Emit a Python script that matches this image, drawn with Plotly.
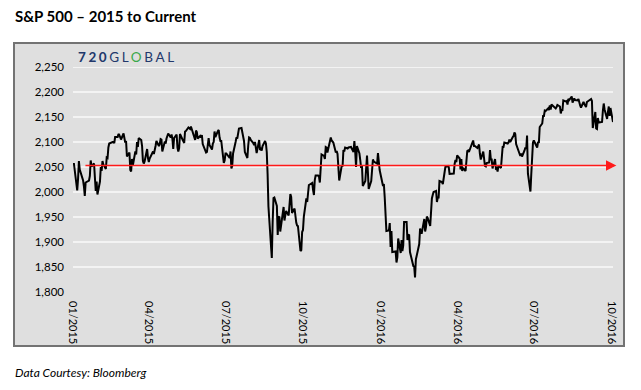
import plotly.graph_objects as go

# S&P 500 daily closes (day of month, close)
sp_2015_01 = [(2,2058),(5,2021),(6,2003),(7,2026),(8,2062),(9,2045),(12,2028),(13,2023),(14,2011),(15,1992),(16,2019),(20,2023),(21,2032),(22,2063),(23,2051),(26,2057),(27,2029),(28,2002),(29,2021),(30,1995)]
sp_2015_02 = [(2,2021),(3,2050),(4,2042),(5,2062),(6,2055),(9,2046),(10,2069),(11,2068),(12,2089),(13,2097),(17,2100),(18,2100),(19,2098),(20,2110),(23,2110),(24,2116),(25,2114),(26,2111),(27,2105)]
sp_2015_03 = [(2,2117),(3,2108),(4,2099),(5,2102),(6,2071),(9,2079),(10,2044),(11,2041),(12,2066),(13,2053),(16,2081),(17,2075),(18,2100),(19,2090),(20,2108),(23,2104),(24,2092),(25,2062),(26,2057),(27,2061),(30,2086),(31,2068)]
sp_2015_04 = [(1,2060),(2,2067),(6,2081),(7,2076),(8,2082),(9,2092),(10,2102),(13,2092),(14,2096),(15,2106),(16,2105),(17,2081),(20,2101),(21,2097),(22,2107),(23,2113),(24,2117),(27,2109),(28,2115),(29,2106),(30,2086)]
sp_2015_05 = [(1,2108),(4,2115),(5,2089),(6,2081),(7,2088),(8,2116),(11,2105),(12,2099),(13,2098),(14,2121),(15,2122),(18,2129),(19,2128),(20,2126),(21,2131),(22,2126),(26,2104),(27,2123),(28,2120),(29,2107)]
sp_2015_06 = [(1,2112),(2,2109),(3,2114),(4,2096),(5,2092),(8,2079),(9,2080),(10,2105),(11,2108),(12,2094),(15,2085),(16,2097),(17,2100),(18,2121),(19,2110),(22,2122),(23,2124),(24,2109),(25,2102),(26,2102),(29,2058),(30,2063)]
sp_2015_07 = [(1,2077),(2,2077),(6,2068),(7,2081),(8,2047),(9,2052),(10,2077),(13,2100),(14,2109),(15,2107),(16,2125),(17,2127),(20,2128),(21,2120),(22,2115),(23,2102),(24,2080),(27,2068),(28,2093),(29,2109),(30,2108),(31,2104)]
sp_2015_08 = [(3,2098),(4,2094),(5,2100),(6,2084),(7,2078),(10,2104),(11,2084),(12,2086),(13,2083),(14,2092),(17,2102),(18,2097),(19,2080),(20,2036),(21,1971),(24,1893),(25,1868),(26,1940),(27,1988),(28,1989),(31,1972)]
sp_2015_09 = [(1,1914),(2,1949),(3,1951),(4,1921),(8,1970),(9,1943),(10,1953),(11,1962),(14,1953),(15,1979),(16,1996),(17,1990),(18,1958),(21,1967),(22,1943),(23,1939),(24,1933),(25,1932),(28,1882),(29,1884),(30,1920)]
sp_2015_10 = [(1,1924),(2,1951),(5,1987),(6,1980),(7,1996),(8,2014),(9,2015),(12,2018),(13,2004),(14,1994),(15,2024),(16,2033),(19,2033),(20,2031),(21,2019),(22,2053),(23,2075),(26,2072),(27,2066),(28,2090),(29,2089),(30,2079)]
sp_2015_11 = [(2,2104),(3,2109),(4,2103),(5,2100),(6,2099),(9,2079),(10,2082),(11,2076),(12,2045),(13,2023),(16,2053),(17,2051),(18,2084),(19,2081),(20,2089),(23,2087),(24,2089),(25,2089),(27,2090),(30,2080)]
sp_2015_12 = [(1,2102),(2,2080),(3,2050),(4,2092),(7,2077),(8,2064),(9,2048),(10,2053),(11,2012),(14,2022),(15,2044),(16,2073),(17,2041),(18,2006),(21,2022),(22,2039),(23,2065),(24,2061),(28,2057),(29,2078),(30,2063),(31,2044)]
sp_2016_01 = [(4,2012),(5,2016),(6,1990),(7,1943),(8,1922),(11,1923),(12,1938),(13,1890),(14,1922),(15,1880),(19,1881),(20,1859),(21,1869),(22,1907),(25,1878),(26,1904),(27,1882),(28,1893),(29,1940)]
sp_2016_02 = [(1,1940),(2,1904),(3,1913),(4,1915),(5,1880),(8,1853),(9,1852),(10,1851),(11,1829),(12,1865),(16,1896),(17,1927),(18,1918),(19,1918),(22,1946),(23,1921),(24,1930),(25,1951),(26,1948),(29,1932)]
sp_2016_03 = [(1,1979),(2,1987),(3,1994),(4,2000),(7,2002),(8,1980),(9,1989),(10,1989),(11,2022),(14,2020),(15,2016),(16,2028),(17,2041),(18,2050),(21,2052),(22,2050),(23,2036),(24,2036),(28,2037),(29,2056),(30,2064),(31,2060)]
sp_2016_04 = [(1,2073),(4,2067),(5,2045),(6,2066),(7,2042),(8,2048),(11,2042),(12,2062),(13,2082),(14,2083),(15,2080),(18,2094),(19,2101),(20,2103),(21,2092),(22,2092),(25,2088),(26,2092),(27,2095),(28,2076),(29,2065)]
sp_2016_05 = [(2,2081),(3,2063),(4,2052),(5,2051),(6,2058),(9,2059),(10,2084),(11,2065),(12,2065),(13,2047),(16,2066),(17,2047),(18,2048),(19,2041),(20,2053),(23,2048),(24,2076),(25,2090),(26,2090),(27,2099),(31,2097)]
sp_2016_06 = [(1,2099),(2,2105),(3,2100),(6,2110),(7,2112),(8,2119),(9,2116),(10,2096),(13,2080),(14,2075),(15,2072),(16,2077),(17,2071),(20,2083),(21,2089),(22,2086),(23,2113),(24,2037),(27,2001),(28,2036),(29,2071),(30,2099)]
sp_2016_07 = [(1,2103),(5,2089),(6,2100),(7,2098),(8,2130),(11,2137),(12,2152),(13,2152),(14,2163),(15,2162),(18,2167),(19,2164),(20,2173),(21,2165),(22,2175),(25,2169),(26,2169),(27,2167),(28,2170),(29,2174)]
sp_2016_08 = [(1,2171),(2,2157),(3,2164),(4,2164),(5,2183),(8,2181),(9,2182),(10,2175),(11,2186),(12,2184),(15,2191),(16,2179),(17,2183),(18,2187),(19,2184),(22,2183),(23,2186),(24,2176),(25,2173),(26,2169),(29,2180),(30,2176),(31,2171)]
sp_2016_09 = [(1,2170),(2,2180),(6,2186),(7,2186),(8,2182),(9,2128),(12,2160),(13,2127),(14,2126),(15,2148),(16,2139),(19,2139),(20,2140),(21,2163),(22,2177),(23,2165),(26,2146),(27,2160),(28,2171),(29,2152),(30,2168)]
sp_2016_10 = [(3,2140)]

months = [
    ("2015-01", sp_2015_01), ("2015-02", sp_2015_02), ("2015-03", sp_2015_03),
    ("2015-04", sp_2015_04), ("2015-05", sp_2015_05), ("2015-06", sp_2015_06),
    ("2015-07", sp_2015_07), ("2015-08", sp_2015_08), ("2015-09", sp_2015_09),
    ("2015-10", sp_2015_10), ("2015-11", sp_2015_11), ("2015-12", sp_2015_12),
    ("2016-01", sp_2016_01), ("2016-02", sp_2016_02), ("2016-03", sp_2016_03),
    ("2016-04", sp_2016_04), ("2016-05", sp_2016_05), ("2016-06", sp_2016_06),
    ("2016-07", sp_2016_07), ("2016-08", sp_2016_08), ("2016-09", sp_2016_09),
    ("2016-10", sp_2016_10),
]

y_tick_values = [1800, 1850, 1900, 1950, 2000, 2050, 2100, 2150, 2200, 2250]
y_tick_labels = ["1,800", "1,850", "1,900", "1,950", "2,000", "2,050", "2,100", "2,150", "2,200", "2,250"]
grid_values = [1850, 1900, 1950, 2000, 2050, 2100, 2150, 2200, 2250]
x_tick_dates = ["2015-01-01", "2015-04-01", "2015-07-01", "2015-10-01",
                "2016-01-01", "2016-04-01", "2016-07-01", "2016-10-01"]
x_tick_labels = ["01/2015", "04/2015", "07/2015", "10/2015",
                 "01/2016", "04/2016", "07/2016", "10/2016"]
reference_level = 2053
reference_start = "2015-01-14"
reference_end = "2016-10-07"

dates, closes = [], []
for ym, rows in months:
    for d, v in rows:
        dates.append(f"{ym}-{d:02d}")
        closes.append(v)

FONT = "Lato, 'Open Sans', sans-serif"
W, H = 641, 390
L, R, T, B = 73, 28, 67, 98
PW, PH = W - L - R, H - T - B

def px_x(p):
    return (p - L) / PW

def px_y(p):
    return (H - B - p) / PH

fig = go.Figure()
fig.add_trace(go.Scatter(x=dates, y=closes, mode="lines",
                         line=dict(color="#000000", width=2), hoverinfo="skip",
                         showlegend=False))

shapes = [dict(type="rect", xref="paper", yref="paper",
               x0=px_x(14), x1=px_x(624), y0=px_y(346), y1=px_y(43),
               fillcolor="#dfdfdf", line=dict(color="#737373", width=2), layer="below")]
for g in grid_values:
    shapes.append(dict(type="line", xref="paper", yref="y", x0=0, x1=1, y0=g, y1=g,
                       line=dict(color="#f3f3f3", width=2), layer="below"))

annotations = [
    dict(x=reference_end, y=reference_level, ax=reference_start, ay=reference_level,
         xref="x", yref="y", axref="x", ayref="y", text="", showarrow=True,
         arrowhead=2, arrowsize=1.3, arrowwidth=1.6, arrowcolor="#ff1a1a", standoff=0),
    dict(text="<b>S&amp;P 500 – 2015 to Current</b>", xref="paper", yref="paper",
         x=px_x(13), y=px_y(16), xanchor="left", yanchor="middle", showarrow=False,
         font=dict(family=FONT, size=15, color="#000000")),
    dict(text="<span style='letter-spacing:2.6px'><b>720</b>GL<span style='color:#3aa84a'>O</span>BAL</span>",
         xref="paper", yref="paper",
         x=px_x(76), y=px_y(57), xanchor="left", yanchor="middle", showarrow=False,
         font=dict(family=FONT, size=13.5, color="#22386b")),
    dict(text="<i>Data Courtesy: Bloomberg</i>", xref="paper", yref="paper",
         x=px_x(13), y=px_y(372), xanchor="left", yanchor="middle", showarrow=False,
         font=dict(family=FONT, size=12, color="#000000")),
]

fig.update_layout(
    width=W, height=H,
    margin=dict(l=L, r=R, t=T, b=B, pad=0),
    paper_bgcolor="#ffffff", plot_bgcolor="rgba(0,0,0,0)",
    showlegend=False,
    shapes=shapes, annotations=annotations,
    xaxis=dict(type="date", range=["2015-01-01", "2016-10-03"],
               tickmode="array", tickvals=x_tick_dates, ticktext=x_tick_labels,
               tickangle=90, showgrid=False, zeroline=False, showline=False, ticks="",
               ticklabelstandoff=8,
               tickfont=dict(family=FONT, size=11, color="#000000")),
    yaxis=dict(range=[1800, 2250], tickmode="array", tickvals=y_tick_values,
               ticktext=y_tick_labels, showgrid=False, zeroline=False, showline=False,
               ticks="", ticklabelstandoff=8,
               tickfont=dict(family=FONT, size=11.5, color="#000000")),
)

fig.write_html("out.html", config={"displayModeBar": False, "staticPlot": True},
               post_script="document.body.style.margin='0px';document.body.style.overflow='hidden';")
